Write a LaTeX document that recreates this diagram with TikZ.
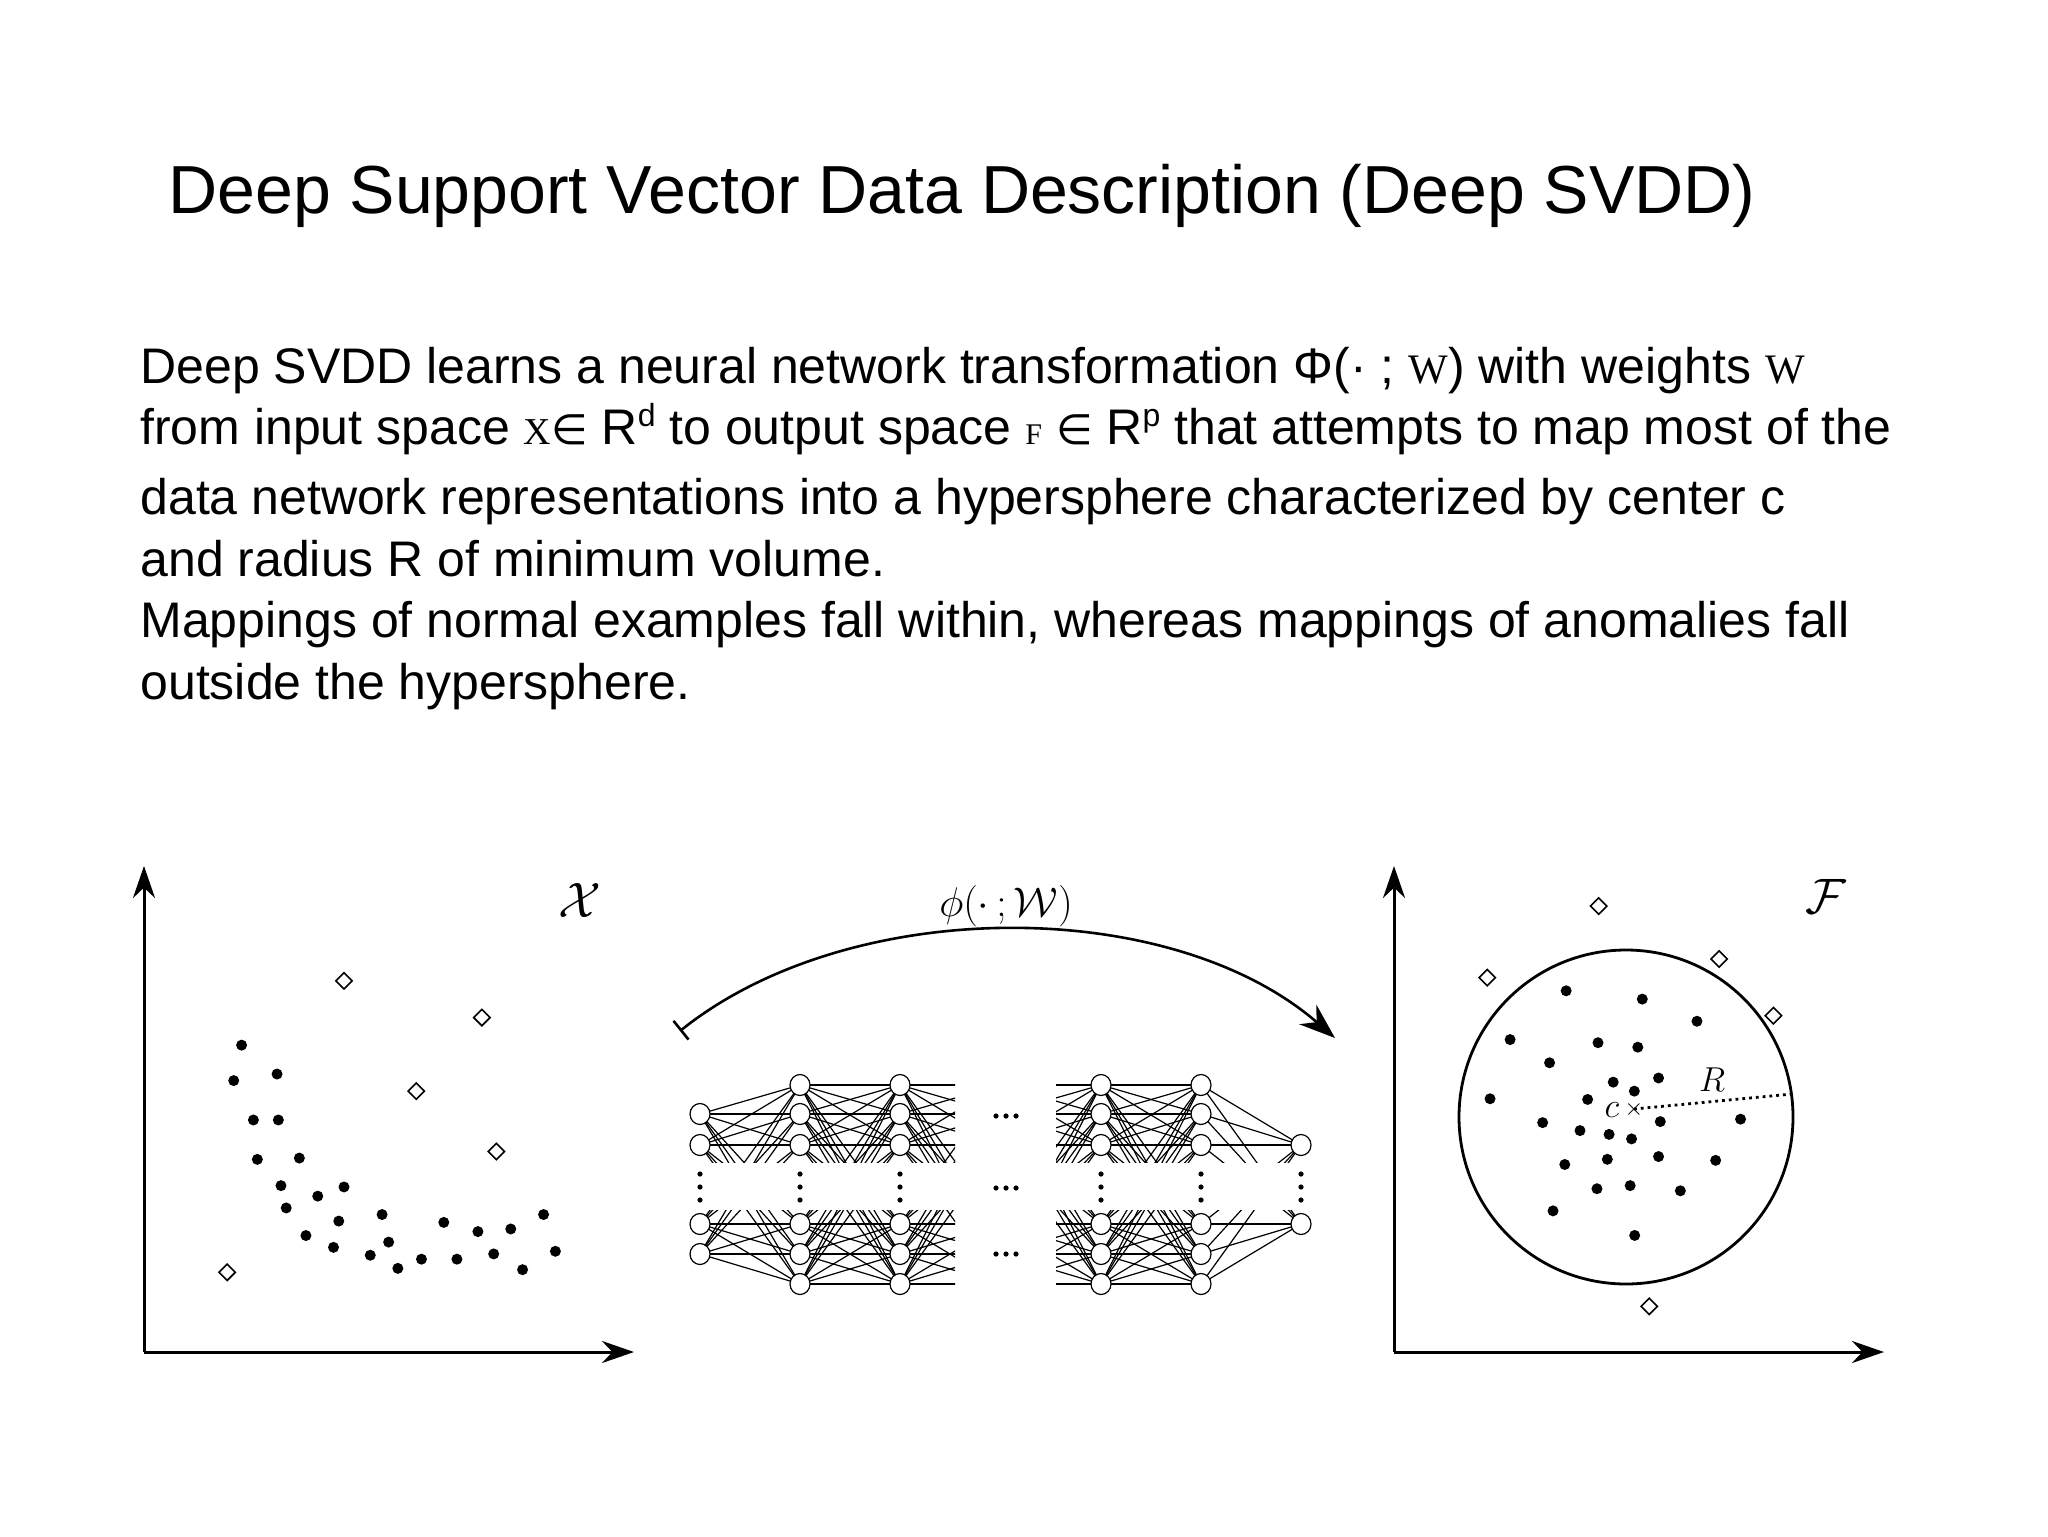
\documentclass[tikz,border=0pt]{standalone}
\usepackage{fontspec}
\setmainfont{Liberation Sans}
\newfontfamily\serifw{Liberation Serif}
\newfontfamily\djv{DejaVu Sans}
\usetikzlibrary{shapes.geometric,arrows.meta}
\tikzset{
  dot/.style={circle,fill=black,inner sep=0pt,minimum size=5.5pt},
  dmd/.style={diamond,draw=black,line width=0.8pt,fill=white,inner sep=0pt,minimum size=8.5pt},
  neuron/.style={ellipse,draw=black,line width=0.6pt,fill=white,inner sep=0pt,minimum width=10pt,minimum height=10.5pt},
  edge/.style={line width=0.6pt,black},
  axis/.style={line width=1.5pt,-{Stealth[length=16pt,width=11pt]}},
  bodytxt/.style={anchor=base west,inner sep=0pt,font=\fontsize{25}{30}\selectfont},
  sdot/.style={circle,fill=black,inner sep=0pt,minimum size=2.6pt}
}
\newcommand{\elem}{{\djv\fontsize{21}{24}\selectfont ∈}}
\newcommand{\supr}[1]{\raisebox{9pt}{\fontsize{16}{18}\selectfont #1}}
\begin{document}
\begin{tikzpicture}[x=0.5pt,y=-0.5pt]
\useasboundingbox[fill=white] (0,0) rectangle (2048,1536);
% title
\node[anchor=base west,inner sep=0pt,font=\fontsize{34}{40}\selectfont] (title) at (168,213) {Deep Support Vector Data Description (Deep SVDD)};
% body
\node[bodytxt] (l1) at (140,383) {Deep SVDD learns a neural network transformation Φ(· ; {\serifw\fontsize{21}{24}\selectfont W}) with weights {\serifw\fontsize{21}{24}\selectfont W}};
\node[bodytxt] (l2) at (140,444) {from input space {\serifw\fontsize{19}{24}\selectfont X}\elem{} R\supr{d} to output space {\serifw\fontsize{15}{24}\selectfont F} \elem{} R\supr{p} that attempts to map most of the};
\node[bodytxt] (l3) at (140,514) {data network representations into a hypersphere characterized by center c};
\node[bodytxt] (l4) at (140,576) {and radius R of minimum volume.};
\node[bodytxt] (l5) at (140,637) {Mappings of normal examples fall within, whereas mappings of anomalies fall};
\node[bodytxt] (l6) at (140,699) {outside the hypersphere.};

% ---------- left plot
\coordinate (lo) at (144,1352);
\coordinate (ltop) at (144,866);
\coordinate (lright) at (634,1352);
\draw[axis] (lo) -- (ltop);
\draw[axis] (lo) -- (lright);
\node[font=\fontsize{25}{28}\selectfont] (Xl) at (580,900) {$\mathcal{X}$};
\begin{scope}[x=0.6565pt,y=-0.6565pt]
\foreach \p [count=\i] in {(184,796),(178,823),(211,818),(193,853),(212,853),(196,883),(228,882),(214,903),(242,911),(262,904),(218,920),(258,930),(291,925),(233,941),(254,950),(296,946),(282,956),(303,966),(321,959),(338,931),(348,959),(364,938),(376,955),(389,936),(414,925),(398,967),(423,953)}
  \node[dot] (ld\i) at \p {};
\foreach \p [count=\i] in {(262,747),(367,775),(317,831),(378,877),(173,969)}
  \node[dmd] (la\i) at \p {};
\end{scope}

% ---------- arc
\coordinate (as) at (680,1031);
\coordinate (ae) at (1335,1038);
\draw[line width=1.3pt,{Bar[width=12pt]}-{Stealth[length=18pt,width=13pt]}] (as) .. controls (850,895) and (1170,895) .. (ae);
\node[font=\fontsize{21}{24}\selectfont] (phi) at (1006,906) {$\phi(\cdot\,;\mathcal{W})$};

% ---------- network
\def\sixrows{1085,1114,1145,1224,1254,1284}
\begin{scope}
\foreach \a in {1114,1145,1224,1254} \foreach \b in \sixrows \draw[edge] (700,\a) -- (800,\b);
\foreach \a in \sixrows \foreach \b in \sixrows \draw[edge] (800,\a) -- (900,\b);
\foreach \a in \sixrows \foreach \b in \sixrows \draw[edge] (1101,\a) -- (1201,\b);
\foreach \a in \sixrows \foreach \b in {1145,1224} \draw[edge] (1201,\a) -- (1301,\b);
\end{scope}
\begin{scope}
\clip (0,0) rectangle (955,1536);
\foreach \a in \sixrows \foreach \b in \sixrows \draw[edge] (900,\a) -- (1000,\b);
\end{scope}
\begin{scope}
\clip (1056,0) rectangle (2048,1536);
\foreach \a in \sixrows \foreach \b in \sixrows \draw[edge] (1000,\a) -- (1101,\b);
\end{scope}
\fill[white] (680,1163) rectangle (1318,1210);
\foreach \y [count=\j] in {1114,1145,1224,1254} \node[neuron] (n1\j) at (700,\y) {};
\foreach \x/\c in {800/2,900/3,1101/5,1201/6}
  \foreach \y [count=\j] in \sixrows \node[neuron] (n\c\j) at (\x,\y) {};
\node[neuron] (n71) at (1301,1145) {};
\node[neuron] (n72) at (1301,1224) {};
\foreach \x in {700,800,900,1101,1201,1301}
  \foreach \y in {1174,1187,1200} \node[sdot] at (\x,\y) {};
\foreach \y in {1116,1188,1254}
  \foreach \x in {996,1006,1016} \node[sdot] at (\x,\y) {};

% ---------- right plot
\coordinate (ro) at (1394,1352);
\coordinate (rtop) at (1394,866);
\coordinate (rright) at (1884,1352);
\draw[axis] (ro) -- (rtop);
\draw[axis] (ro) -- (rright);
\node[font=\fontsize{25}{28}\selectfont] (Fl) at (1826,896) {$\mathcal{F}$};
\node[circle,draw=black,line width=1.4pt,minimum size=167pt,inner sep=0pt] (sph) at (1626,1117) {};
\coordinate (cc) at (1634,1109);
\coordinate (re) at (1792,1094);
\draw[line width=1.4pt,dotted] (cc) -- (re);
\node[font=\fontsize{13}{16}\selectfont,inner sep=0pt] (cx) at (cc) {$\times$};
\node[font=\fontsize{18}{20}\selectfont] (cl) at (1612,1110) {$c$};
\node[font=\fontsize{18}{20}\selectfont] (Rl) at (1712,1080) {$R$};
\begin{scope}[shift={(1380,860)},x=0.173pt,y=-0.173pt]
\foreach \p [count=\i] in {(538,378),(758,402),(916,466),(376,519),(630,528),(745,541),(490,586),(674,642),(805,630),(735,668),(318,690),(600,692),(470,759),(810,756),(1042,749),(578,782),(662,793),(727,806),(657,865),(805,857),(970,868),(534,880),(627,950),(723,941),(868,956),(500,1014),(736,1085)}
  \node[dot] (rd\i) at \p {};
\foreach \p [count=\i] in {(632,133),(310,340),(980,286),(1137,450),(778,1290)}
  \node[dmd] (ra\i) at \p {};
\end{scope}
\end{tikzpicture}
\end{document}
